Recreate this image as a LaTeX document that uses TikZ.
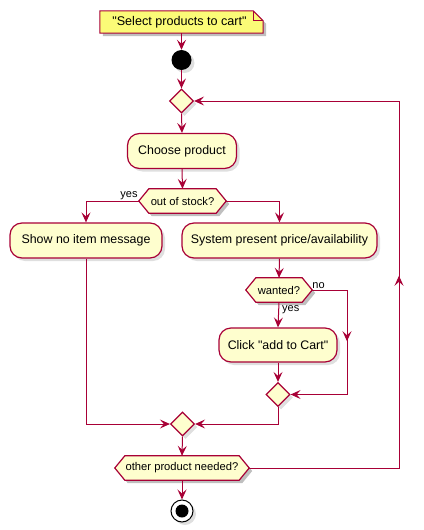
\documentclass[tikz,border=0pt]{standalone}
\usepackage{fontspec}
\setmainfont{Liberation Sans}[Ligatures=TeXOff]
\usetikzlibrary{arrows.meta,shapes.geometric,shadows,calc,backgrounds,decorations.markings}
\definecolor{pbord}{HTML}{A80036}
\definecolor{pfill}{HTML}{FEFECE}
\definecolor{pnote}{HTML}{FBFB77}
\tikzset{
  tip/.tip={Stealth[length=10pt,width=9pt,inset=4pt]},
  flow/.style={draw=pbord, line width=1pt, -tip},
  plainline/.style={draw=pbord, line width=1pt},
  shad/.style={drop shadow={shadow xshift=3pt,shadow yshift=-3pt,opacity=0.25}},
  act/.style={draw=pbord, line width=1.2pt, fill=pfill, rounded corners=12pt,
    minimum height=35pt, inner sep=0pt, font=\fontsize{12.4}{14}\selectfont, shad},
  dec/.style={diamond, draw=pbord, line width=1.2pt, fill=pfill,
    minimum width=24pt, minimum height=24pt, inner sep=0pt, shad},
  hexn/.style={rectangle, minimum height=24pt, inner sep=0pt, font=\fontsize{11.2}{13}\selectfont},
  hexline/.style={draw=pbord, line width=1.2pt, fill=pfill},
  shadowfill/.style={fill=black, opacity=0.25},
  lbl/.style={font=\fontsize{11}{13}\selectfont, inner sep=1pt},
  midtip/.style={postaction={decorate}, decoration={markings, mark=at position #1 with {\arrow[pbord,line width=1pt]{tip}}}},
}
\newcommand\hexdraw[1]{%
  \begin{scope}[on background layer]
    \fill[shadowfill] ([shift={(3,3)}]#1.west) -- ([shift={(13,3)}]#1.north west) -- ([shift={(-7,3)}]#1.north east) -- ([shift={(3,3)}]#1.east) -- ([shift={(-7,3)}]#1.south east) -- ([shift={(13,3)}]#1.south west) -- cycle;
    \path[hexline] (#1.west) -- ([xshift=10pt]#1.north west) -- ([xshift=-10pt]#1.north east) -- (#1.east) -- ([xshift=-10pt]#1.south east) -- ([xshift=10pt]#1.south west) -- cycle;
  \end{scope}}
\begin{document}
\begin{tikzpicture}[x=1pt,y=-1pt]
\useasboundingbox (0,0) rectangle (423,530);
% note
\node[minimum width=163pt, minimum height=22pt, inner sep=0pt, font=\fontsize{12.6}{15}\selectfont] (note) at (181.5,22) {\hspace*{-4pt}"Select products to cart"};
\begin{scope}[on background layer]
  \fill[shadowfill] ([shift={(3,3)}]note.north west) -- ([shift={(-7,3)}]note.north east) -- ([shift={(3,13)}]note.north east) -- ([shift={(3,3)}]note.south east) -- ([shift={(3,3)}]note.south west) -- cycle;
  \path[draw=pbord, line width=1pt, fill=pnote] (note.north west) -- ([xshift=-10pt]note.north east) -- ([yshift=-10pt]note.north east) -- (note.south east) -- (note.south west) -- cycle;
  \draw[pbord, line width=1pt] ([xshift=-10pt]note.north east) -- ([shift={(-10,10)}]note.north east) -- ([yshift=-10pt]note.north east);
\end{scope}
% start
\node[circle, fill=black, minimum size=20pt, inner sep=0pt, shad] (start) at (181.5,60) {};
\node[dec] (d1) at (181.5,101) {};
\node[act, minimum width=109pt] (choose) at (182,151) {Choose product};
\node[hexn, minimum width=87pt] (q1) at (182.5,201) {out of stock?};
\hexdraw{q1}
\node[act, minimum width=152pt] (nomsg) at (86,240.5) {Show no item message};
\node[act, minimum width=195pt] (sys) at (279.5,240.5) {System present price/availability};
\node[hexn, minimum width=66pt] (q2) at (279,290) {wanted?};
\hexdraw{q2}
\node[act, minimum width=118pt, minimum height=34pt] (click) at (278,345) {Click "add to Cart"};
\node[dec] (d2) at (278,394.5) {};
\node[dec] (d3) at (182.5,424) {};
\node[hexn, minimum width=134pt] (q3) at (182,468) {other product needed?};
\hexdraw{q3}
\node[circle, draw=black, line width=1pt, fill=white, minimum size=22pt, inner sep=0pt, shad] (stop) at (182,511) {};
\node[circle, fill=black, minimum size=13pt, inner sep=0pt] (stopin) at (stop.center) {};
% connectors
\draw[flow] (note.south) -- (start.north);
\draw[flow] (start.south) -- (d1.north);
\draw[flow] (d1.south) -- (choose.north);
\draw[flow] (choose.south) -- (q1.north);
\draw[flow] (q1.west) -| (nomsg.north);
\node[lbl, anchor=south east] (yes1) at (q1.west) {yes};
\draw[flow] (q1.east) -| (sys.north);
\draw[flow] (sys.south) -- (q2.north);
\draw[flow] (q2.south) -- (click.north);
\node[lbl, anchor=north west] (yes2) at ([shift={(2,2)}]q2.south) {yes};
\coordinate (nr) at (347,290);
\draw[plainline, midtip=86pt, -tip] (q2.east) -- (nr) |- (d2.east);
\node[lbl, anchor=south west] (no2) at ([xshift=-1pt]q2.east) {no};
\draw[flow] (click.south) -- (d2.north);
\draw[flow] (nomsg.south) |- (d3.west);
\draw[flow] (d2.south) |- (d3.east);
\draw[flow] (d3.south) -- (q3.north);
\coordinate (lr) at (399,468);
\draw[plainline, midtip=342pt, -tip] (q3.east) -- (lr) |- (d1.east);
\draw[flow] (q3.south) -- (stop.north);
\end{tikzpicture}
\end{document}
